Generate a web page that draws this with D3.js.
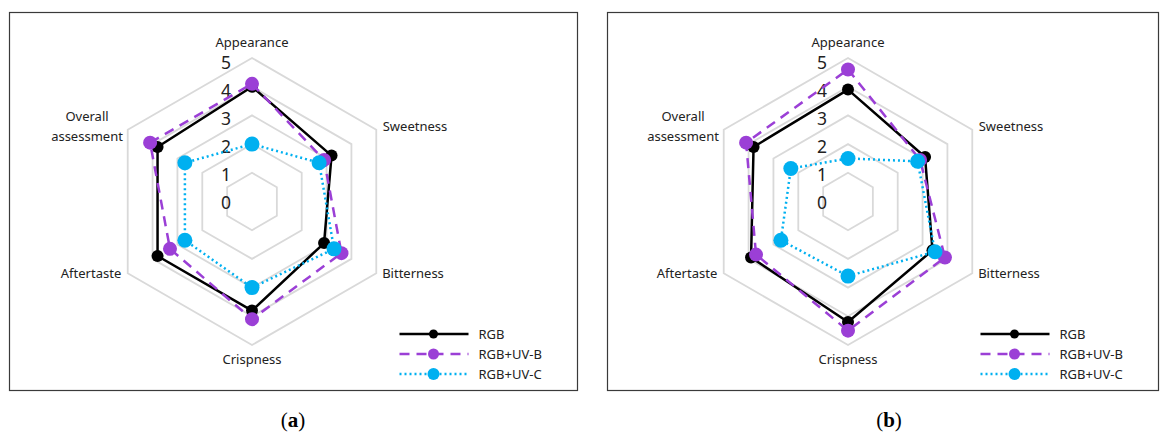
<!DOCTYPE html>
<html>
<head>
<meta charset="utf-8">
<script src="https://cdn.jsdelivr.net/npm/d3@7/dist/d3.min.js"></script>
<style>
  html, body { margin: 0; padding: 0; background: #fff; }
  svg { display: block; }
</style>
</head>
<body>
<svg id="chart" width="1166" height="436"></svg>
<script>
// Sensory attributes (radar axes, clockwise from top)
const attributes = ["Appearance", "Sweetness", "Bitterness", "Crispness", "Aftertaste", "Overall assessment"];
const scoreTicks = [0, 1, 2, 3, 4, 5];
const seriesNames = ["RGB", "RGB+UV-B", "RGB+UV-C"];

// Panel (a) scores
const rgbA  = [4.0, 3.2, 2.9, 3.8, 3.8, 3.8];
const uvbA  = [4.1, 2.9, 3.6, 4.1, 3.3, 4.1];
const uvcA  = [2.0, 2.7, 3.3, 3.0, 2.7, 2.7];

// Panel (b) scores
const rgbB  = [3.9, 3.1, 3.4, 4.2, 3.9, 3.8];
const uvbB  = [4.6, 2.9, 3.9, 4.5, 3.7, 4.1];
const uvcB  = [1.5, 2.8, 3.5, 2.6, 2.7, 2.3];

const panelLetters = ["a", "b"];

const styles = [
  { color: "#000000", dash: null,  width: 2.5, r: 6,   lr: 4.5 },
  { color: "#9b3fd6", dash: "10,7", width: 2.5, r: 7,   lr: 5.5 },
  { color: "#00b0f0", dash: "2,3", width: 2.5, r: 7.5, lr: 6 }
];

const svg = d3.select("#chart");
const font = "'Noto Sans', 'Open Sans', sans-serif";

const panels = [
  { x0: 9.5, x1: 577.5, cx: 252, series: [rgbA, uvbA, uvcA], letter: panelLetters[0], capX: 293 },
  { x0: 607.5, x1: 1158.5, cx: 848, series: [rgbB, uvbB, uvcB], letter: panelLetters[1], capX: 889 }
];

const cy = 201.5;
const rScale = d3.scaleLinear().domain([0, 5]).range([0, 143.5]);
const angle = d3.scaleLinear().domain([0, attributes.length]).range([0, 2 * Math.PI]);
const lineGen = d3.lineRadial()
  .angle((d, i) => angle(i))
  .radius(d => rScale(d))
  .curve(d3.curveLinearClosed);

function pt(i, v) {
  const a = angle(i) - Math.PI / 2;
  return [Math.cos(a) * rScale(v), Math.sin(a) * rScale(v)];
}

// attribute label offsets from the radar centre
const labelPos = [
  { dx: 0, dy: -159 },
  { dx: 163, dy: -75 },
  { dx: 161, dy: 72 },
  { dx: 0, dy: 157.5 },
  { dx: -161, dy: 72 },
  { dx: -165, dy: -75 }
];

panels.forEach(p => {
  // frame
  svg.append("rect")
    .attr("x", p.x0).attr("y", 12.5)
    .attr("width", p.x1 - p.x0).attr("height", 378)
    .attr("fill", "none").attr("stroke", "#3a3a3a").attr("stroke-width", 1.2);

  const g = svg.append("g").attr("transform", `translate(${p.cx},${cy})`);

  // hexagonal grid
  scoreTicks.filter(t => t > 0).forEach(t => {
    g.append("path")
      .attr("d", lineGen(attributes.map(() => t)))
      .attr("fill", "none").attr("stroke", "#d9d9d9").attr("stroke-width", 1.8);
  });

  // score tick labels
  g.selectAll("text.tick").data(scoreTicks).enter().append("text")
    .attr("class", "tick")
    .attr("x", -21)
    .attr("y", d => -rScale(d) * 0.975 + 1)
    .attr("dy", "0.36em")
    .attr("text-anchor", "end")
    .attr("font-family", font).attr("font-size", 17.5)
    .attr("fill", "#222")
    .text(d => d);

  // attribute labels
  attributes.forEach((name, i) => {
    const lp = labelPos[i];
    const t = g.append("text")
      .attr("x", lp.dx).attr("y", lp.dy)
      .attr("text-anchor", "middle")
      .attr("font-family", font).attr("font-size", 13)
      .attr("fill", "#222");
    const words = name.split(" ");
    if (words.length > 1) {
      t.attr("y", lp.dy - 10);
      words.forEach((w, k) => {
        t.append("tspan").attr("x", lp.dx).attr("dy", k === 0 ? "0.35em" : "1.5em").text(w);
      });
    } else {
      t.attr("dy", "0.35em").text(name);
    }
  });

  // series polygons and markers
  p.series.forEach((vals, si) => {
    const s = styles[si];
    g.append("path")
      .attr("d", lineGen(vals))
      .attr("fill", "none")
      .attr("stroke", s.color)
      .attr("stroke-width", s.width)
      .attr("stroke-dasharray", s.dash)
      .attr("stroke-linejoin", "round");
    g.selectAll(null).data(vals).enter().append("circle")
      .attr("cx", (d, i) => pt(i, d)[0])
      .attr("cy", (d, i) => pt(i, d)[1])
      .attr("r", s.r)
      .attr("fill", s.color);
  });

  // legend
  const lg = svg.append("g").attr("transform", `translate(${p.x1 - 178},334)`);
  seriesNames.forEach((name, si) => {
    const s = styles[si];
    const y = si * 20;
    lg.append("line")
      .attr("x1", 0).attr("x2", 69).attr("y1", y).attr("y2", y)
      .attr("stroke", s.color).attr("stroke-width", s.width)
      .attr("stroke-dasharray", s.dash);
    lg.append("circle").attr("cx", 34).attr("cy", y).attr("r", s.lr).attr("fill", s.color);
    lg.append("text")
      .attr("x", 79).attr("y", y).attr("dy", "0.35em")
      .attr("font-family", font).attr("font-size", 13)
      .attr("fill", "#222")
      .text(name);
  });

  // caption
  const cap = svg.append("text")
    .attr("x", p.capX).attr("y", 427)
    .attr("text-anchor", "middle")
    .attr("font-family", "'Liberation Serif', 'DejaVu Serif', serif")
    .attr("font-size", 21)
    .attr("fill", "#000");
  cap.append("tspan").text("(");
  cap.append("tspan").attr("font-weight", "bold").text(p.letter);
  cap.append("tspan").text(")");
});
</script>
</body>
</html>
